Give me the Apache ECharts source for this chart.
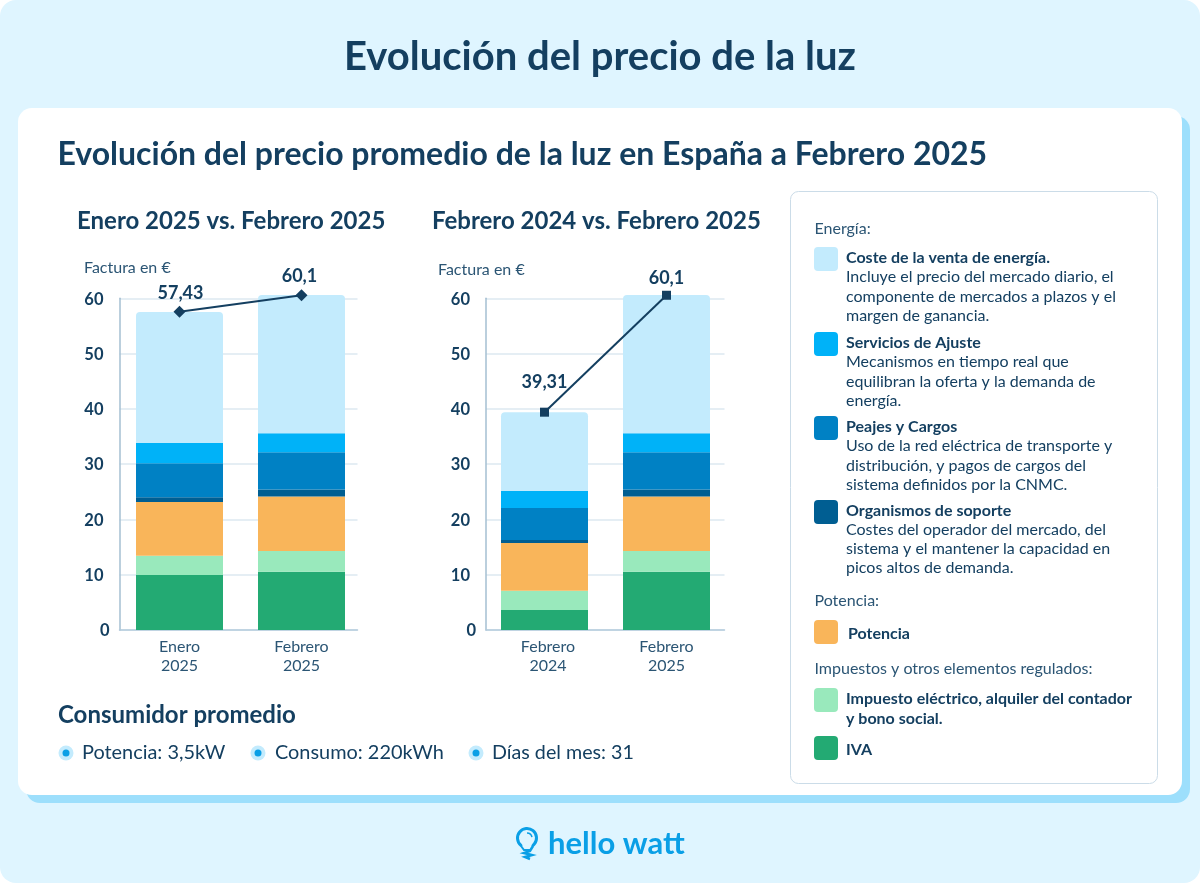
<!DOCTYPE html>
<html><head><meta charset="utf-8">
<style>html,body{margin:0;padding:0;background:#FFFFFF}#c{width:1200px;height:883px}</style>
<script src="https://cdn.jsdelivr.net/npm/echarts@6/dist/echarts.min.js"></script>
</head><body><div id="c"></div>
<script>
const categoriesA = ['Enero\n2025', 'Febrero\n2025'];
const categoriesB = ['Febrero\n2024', 'Febrero\n2025'];
const seriesNames = ['IVA','Impuesto eléctrico, alquiler del contador y bono social','Potencia','Organismos de soporte','Peajes y Cargos','Servicios de Ajuste','Coste de la venta de energía'];
const seriesColors = ['#23AA73','#99E9BC','#F9B55A','#005E92','#0081C4','#00B2F8','#C3EBFD'];
const valuesEne25 = [9.95, 3.5, 9.71, 0.84, 6.15, 3.69, 23.7];
const valuesFeb25 = [10.55, 3.75, 9.83, 1.27, 6.75, 3.45, 25.0];
const valuesFeb24 = [3.62, 3.5, 8.62, 0.54, 5.79, 3.08, 14.23];
const lineA = [57.55, 60.55];
const lineB = [39.4, 60.55];
const lineLabelsA = ['57,43','60,1'];
const lineLabelsB = ['39,31','60,1'];

const ink = '#143F60';
const font = 'Lato';
const bottomY = 630, pxPerUnit = 331.7/60, barMax = 63;
const plotTop = bottomY - 60*pxPerUnit, plotH = 60*pxPerUnit;
const barTop = bottomY - barMax*pxPerUnit, barH = barMax*pxPerUnit;

function gridSet(axisLeft, axisW, barLeft, barW){
  return [
    {left:axisLeft, top:plotTop, width:axisW, height:plotH},
    {left:barLeft, top:barTop, width:barW, height:barH}
  ];
}
const grids = [...gridSet(119.5,238,118.5,244), ...gridSet(486,238.5,483.5,244)];

const xAxes = [], yAxes = [];
function addAxes(idx, cats, pads){
  xAxes.push({gridIndex:idx, type:'category', data:cats, show:true,
    axisLine:{show:true, lineStyle:{color:'#B4CBDC', width:1.5}}, axisTick:{show:false}, axisLabel:{show:false}});
  yAxes.push({gridIndex:idx, type:'value', min:0, max:60, interval:10,
    axisLine:{show:true, lineStyle:{color:'#A5BFD2', width:1.5}}, axisTick:{show:false},
    splitLine:{show:true, lineStyle:{color:'#DCE8F1', width:1.5}},
    axisLabel:{margin:10, color:ink, fontFamily:font, fontSize:16.5, fontWeight:700,
      formatter:v=> v===0 ? '{z|0}' : '{n|'+v+'}',
      rich:{z:{color:ink,fontFamily:font,fontSize:16.5,fontWeight:700,padding:[2,0,0,0]},
            n:{color:ink,fontFamily:font,fontSize:16.5,fontWeight:700,padding:[2,6,0,0]}}}});
  xAxes.push({gridIndex:idx+1, type:'category', data:cats,
    axisLine:{show:false}, axisTick:{show:false},
    axisLabel:{margin:7, color:'#2B5574', fontFamily:font, fontSize:16, lineHeight:19, interval:0,
      formatter:(v,i)=> v.split('\n').map(s=>'{'+(pads[i]?'p':'o')+'|'+s+'}').join('\n'),
      rich:{o:{color:'#2B5574',fontFamily:font,fontSize:16,lineHeight:19},
            p:{color:'#2B5574',fontFamily:font,fontSize:16,lineHeight:19,padding:[0,0,0,7]}}}});
  yAxes.push({gridIndex:idx+1, type:'value', min:0, max:barMax, show:false});
}
addAxes(0, categoriesA, [0,0]);
addAxes(2, categoriesB, [1,0]);

function barSeries(axisIdx, a, b, stack){
  return seriesNames.map((n,i)=>({
    name:n, type:'bar', stack, xAxisIndex:axisIdx, yAxisIndex:axisIdx, barWidth:87,
    data:[a[i], b[i]], silent:true,
    itemStyle:{color:seriesColors[i], borderRadius: i===seriesNames.length-1 ? [4,4,0,0] : 0}
  }));
}
function lineSeries(axisIdx, vals, labels, symbol, offs){
  return {type:'line', xAxisIndex:axisIdx, yAxisIndex:axisIdx, data:vals, z:10, silent:true,
    symbol, symbolSize:symbol==='diamond'?12:9,
    lineStyle:{color:ink,width:2}, itemStyle:{color:ink},
    label:{show:true, color:ink, fontFamily:font, fontSize:18, fontWeight:700,
      position:'top', formatter:p=>labels[p.dataIndex]},
    labelLayout:p=>({dx:offs[p.dataIndex][0], dy:offs[p.dataIndex][1]})};
}
const series = [
  ...barSeries(1, valuesEne25, valuesFeb25, 'a'),
  ...barSeries(3, valuesFeb24, valuesFeb25, 'b'),
  lineSeries(1, lineA, lineLabelsA, 'diamond', [[1,1],[-2,1]]),
  lineSeries(3, lineB, lineLabelsB, 'rect', [[0,-11],[0,1]])
];

function T(x,y,text,size,weight,color,extra){
  return Object.assign({type:'text', x, y, silent:true, style:{text, font:(weight||400)+' '+size+'px '+font, fill:color||ink, textVerticalAlign:'middle', textBaseline:'middle', textAlign:'left', lineHeight:Math.round(size*1.3)}}, extra||{});
}
function R(x,y,w,h,r,fill,stroke){
  return {type:'rect', silent:true, shape:{x,y,width:w,height:h,r}, style:{fill, stroke:stroke||null, lineWidth:stroke?1:0}};
}
function swatch(y,c){return R(814,y,24,24,4,c);}
function dot(x,y){return [
  {type:'circle', silent:true, shape:{cx:x,cy:y,r:7.5}, style:{fill:'#C3EBFD'}},
  {type:'circle', silent:true, shape:{cx:x,cy:y,r:3.5}, style:{fill:'#0A9FE6'}}];}

const bgEls = [
  R(0,0,1200,883,16,'#DFF5FF'),
  R(26,116,1164,687,14,'#9DDFFC'),
  R(18,108,1164,687,14,'#FFFFFF'),
  R(790.5,191.5,367,592,8,'#FFFFFF','#CBDCE8')
];
const body = '#2B5574';
const L = 16;
const textEls = [
  T(600,57,'Evolución del precio de la luz',40,700,ink,{}),
  T(57.5,155,'Evolución del precio promedio de la luz en España a Febrero 2025',32,700),
  T(77,221.5,'Enero 2025 vs. Febrero 2025',24,700),
  T(432,221.5,'Febrero 2024 vs. Febrero 2025',24,700),
  T(84,268,'Factura en €',16,400,body),
  T(438,270,'Factura en €',16,400,body),
  T(58,715,'Consumidor promedio',24,700),
  ...dot(66,753), T(82,753,'Potencia: 3,5kW',19.9,400),
  ...dot(258,753), T(275,753,'Consumo: 220kWh',19.9,400),
  ...dot(476,753), T(492,753,'Días del mes: 31',19.7,400),
  T(814.5,229,'Energía:',L,400,body),
  swatch(247,seriesColors[6]), T(846,258,'Coste de la venta de energía.',L,700),
  T(846,277,'Incluye el precio del mercado diario, el',L,400),
  T(846,297,'componente de mercados a plazos y el',L,400),
  T(846,316,'margen de ganancia.',L,400),
  swatch(332,seriesColors[5]), T(846,343,'Servicios de Ajuste',L,700),
  T(846,362,'Mecanismos en tiempo real que',L,400),
  T(846,382,'equilibran la oferta y la demanda de',L,400),
  T(846,401,'energía.',L,400),
  swatch(416,seriesColors[4]), T(846,427,'Peajes y Cargos',L,700),
  T(846,446,'Uso de la red eléctrica de transporte y',L,400),
  T(846,466,'distribución, y pagos de cargos del',L,400),
  T(846,485,'sistema definidos por la CNMC.',L,400),
  swatch(500,seriesColors[3]), T(846,511,'Organismos de soporte',L,700),
  T(846,530,'Costes del operador del mercado, del',L,400),
  T(846,549,'sistema y el mantener la capacidad en',L,400),
  T(846,568,'picos altos de demanda.',L,400),
  T(814.5,601,'Potencia:',L,400,body),
  swatch(620,seriesColors[2]), T(848,634,'Potencia',L,700),
  T(814.5,669,'Impuestos y otros elementos regulados:',L,400,body),
  swatch(688,seriesColors[1]), T(846,699,'Impuesto eléctrico, alquiler del contador',L,700),
  T(846,719,'y bono social.',L,700),
  swatch(736,seriesColors[0]), T(846,749.5,'IVA',L,700),
  T(548,844,'hello watt',31,700,'#0A9FE6'),
  {type:'arc', silent:true, shape:{cx:527,cy:838,r:9.5,startAngle:Math.PI*0.72,endAngle:Math.PI*0.28,clockwise:true}, style:{fill:'none',stroke:'#0A9FE6',lineWidth:3,lineCap:'round'}},
  {type:'arc', silent:true, shape:{cx:527,cy:838,r:5,startAngle:-Math.PI*0.5,endAngle:-Math.PI*0.05,clockwise:true}, style:{fill:'none',stroke:'#0A9FE6',lineWidth:1.5}},
  {type:'polyline', silent:true, shape:{points:[[521,846],[524,850],[531,850]]}, style:{fill:'none',stroke:'#0A9FE6',lineWidth:2}},
  {type:'polyline', silent:true, shape:{points:[[533,846],[530,851],[524,853],[532,855],[525,857],[530,859]]}, style:{fill:'none',stroke:'#0A9FE6',lineWidth:2.5}}
];
textEls[0].style.textAlign='center';

const chart = echarts.init(document.getElementById('c'), null, {renderer:'canvas', width:1200, height:883});
chart.setOption({
  animation:false, backgroundColor:'#FFFFFF',
  graphic:[{type:'group', z:-1, silent:true, children:bgEls.map(e=>Object.assign(e,{z:-10}))},
           {type:'group', z:20, silent:true, children:textEls.map(e=>Object.assign(e,{z:20}))}],
  grid:grids, xAxis:xAxes, yAxis:yAxes, series
});
</script></body></html>
